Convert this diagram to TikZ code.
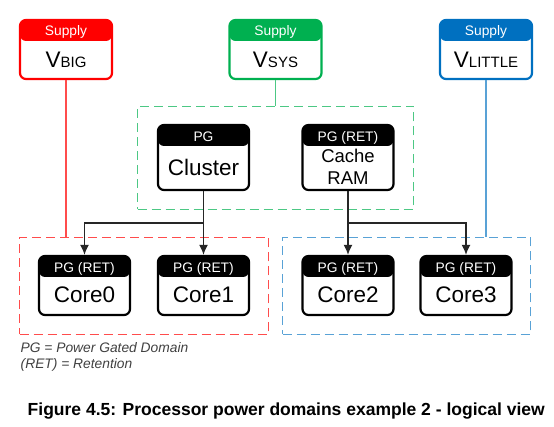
\documentclass[tikz,border=0pt]{standalone}
\usepackage{fontspec}
\setmainfont{Liberation Sans}
\usetikzlibrary{arrows.meta}

\definecolor{supred}{HTML}{FF0000}
\definecolor{supgreen}{HTML}{00B050}
\definecolor{supblue}{HTML}{0070C0}

\begin{document}
\begin{tikzpicture}[x=1pt,y=-1pt,
  supplybox/.style={draw=#1,line width=2.2pt,rounded corners=6pt,fill=white,
    minimum width=92pt,minimum height=59pt,inner sep=0pt,
    path picture={\fill[#1] (path picture bounding box.north west) rectangle ([yshift=-21pt]path picture bounding box.north east);}},
  pgbox/.style={supplybox=black,minimum width=91pt,minimum height=#1},
  hdrtext/.style={text=white,font=\fontsize{13.8}{14}\selectfont,anchor=base,inner sep=0pt},
  bodytext/.style={text=black,font=\fontsize{22.5}{24}\selectfont,inner sep=0pt,align=center},
  domain/.style={draw=#1,dash pattern=on 9pt off 5pt,line width=1.6pt,inner sep=0pt},
  feed/.style={draw=#1,line width=1.6pt},
  conn/.style={draw=black!85,line width=1.4pt,-{Latex[length=10pt,width=9pt]}}]

\useasboundingbox (0,0) rectangle (554,427);

% power domains
\node[domain=supgreen!70,minimum width=276pt,minimum height=103pt] (sysdom) at (275.5,158) {};
\node[domain=supred!70,minimum width=249pt,minimum height=97pt] (bigdom) at (144,286) {};
\node[domain=supblue!65,minimum width=248pt,minimum height=97pt] (littledom) at (406.5,286) {};

% supplies
\node[supplybox=supred] (vbig) at (66,49.5) {};
\node[supplybox=supgreen] (vsys) at (275.5,49.5) {};
\node[supplybox=supblue] (vlittle) at (486,49.5) {};

\node[hdrtext] (vbig-h) at ([yshift=-17pt]vbig.north) {Supply};
\node[hdrtext] (vsys-h) at ([yshift=-17pt]vsys.north) {Supply};
\node[hdrtext] (vlittle-h) at ([yshift=-17pt]vlittle.north) {Supply};

\node[bodytext] (vbig-t) at ([yshift=-10.5pt]vbig.center) {V{\fontsize{15}{16}\selectfont BIG}};
\node[bodytext] (vsys-t) at ([yshift=-10.5pt]vsys.center) {V{\fontsize{15}{16}\selectfont SYS}};
\node[bodytext] (vlittle-t) at ([yshift=-10.5pt]vlittle.center) {V{\fontsize{15}{16}\selectfont LITTLE}};

% power gated blocks
\node[pgbox=65pt] (cluster) at (203.5,157.5) {};
\node[pgbox=65pt] (cache) at (348,157.5) {};
\node[pgbox=59pt] (core0) at (84.5,285.5) {};
\node[pgbox=59pt] (core1) at (203.5,285.5) {};
\node[pgbox=59pt] (core2) at (348,285.5) {};
\node[pgbox=59pt] (core3) at (466,285.5) {};

\node[hdrtext] (cluster-h) at ([yshift=-17.5pt]cluster.north) {PG};
\node[hdrtext] (cache-h) at ([yshift=-17.5pt]cache.north) {PG (RET)};
\node[hdrtext] (core0-h) at ([yshift=-17.5pt]core0.north) {PG (RET)};
\node[hdrtext] (core1-h) at ([yshift=-17.5pt]core1.north) {PG (RET)};
\node[hdrtext] (core2-h) at ([yshift=-17.5pt]core2.north) {PG (RET)};
\node[hdrtext] (core3-h) at ([yshift=-17.5pt]core3.north) {PG (RET)};

\node[bodytext] (cluster-t) at ([yshift=-9.5pt]cluster.center) {Cluster};
\node[bodytext,font=\fontsize{18.5}{22}\selectfont] (cache-t) at ([yshift=-9.5pt]cache.center) {Cache\\RAM};
\node[bodytext] (core0-t) at ([yshift=-9.5pt]core0.center) {Core0};
\node[bodytext] (core1-t) at ([yshift=-9.5pt]core1.center) {Core1};
\node[bodytext] (core2-t) at ([yshift=-9.5pt]core2.center) {Core2};
\node[bodytext] (core3-t) at ([yshift=-9.5pt]core3.center) {Core3};

% supply feeds
\draw[feed=supred!70] (vbig.south) -- (vbig.south |- bigdom.north);
\draw[feed=supgreen!70] (vsys.south) -- (vsys.south |- sysdom.north);
\draw[feed=supblue!65] (vlittle.south) -- (vlittle.south |- littledom.north);

% connections
\coordinate (bus) at (0,223);
\draw[conn] (cluster.south) -- (cluster.south |- bus) -| (core0.north);
\draw[conn] (cluster.south) -- (core1.north);
\draw[conn] (cache.south) -- (core2.north);
\draw[conn] (cache.south) -- (cache.south |- bus) -| (core3.north);

% key and caption
\node[anchor=north west,align=left,inner sep=0pt,text=black!75,
  font=\itshape\fontsize{13.8}{16.5}\selectfont] (key) at (20.5,342) {PG = Power Gated Domain\\(RET) = Retention};
\node[anchor=base west,inner sep=0pt,font=\bfseries\fontsize{17.5}{20}\selectfont] (caption) at (27.5,415)
  {Figure 4.5: Processor power domains example 2 - logical view};

\end{tikzpicture}
\end{document}
